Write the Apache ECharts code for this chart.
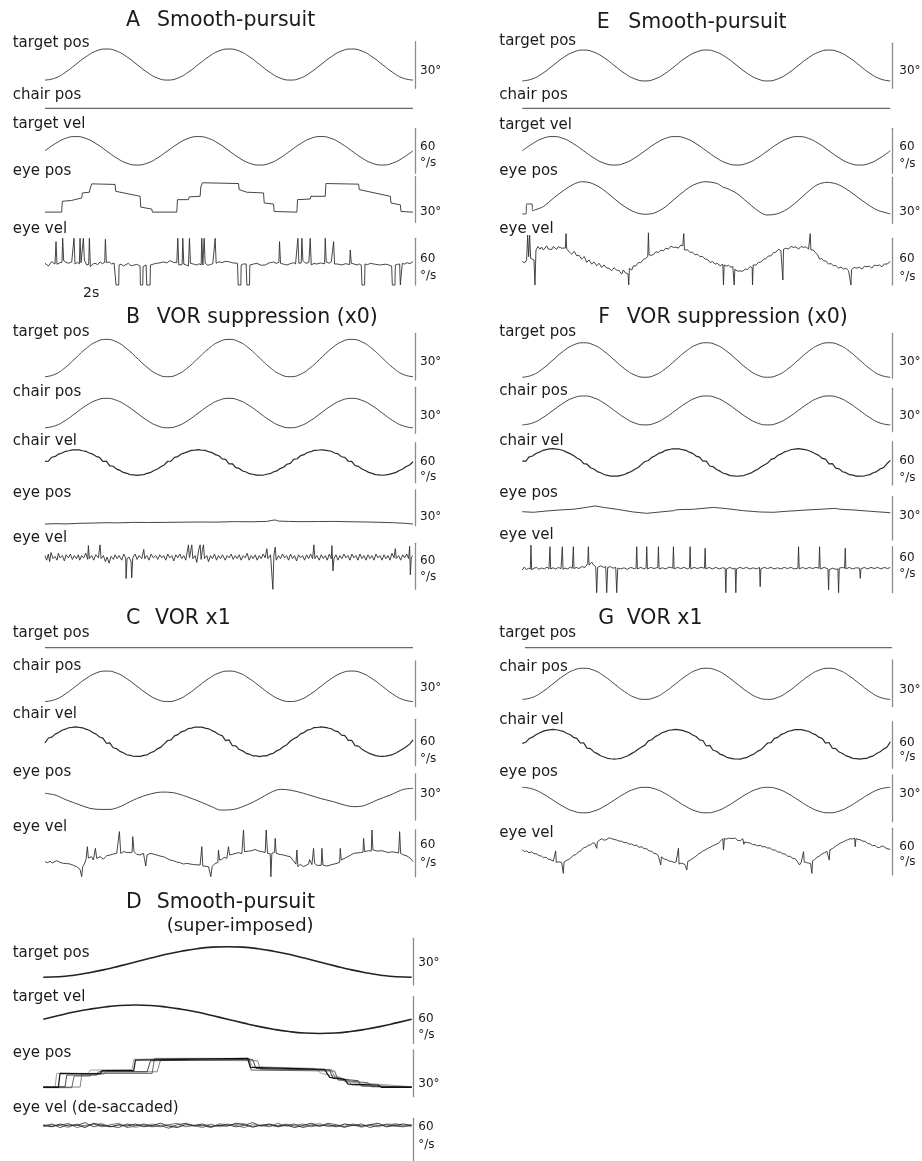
<!DOCTYPE html>
<html><head><meta charset="utf-8">
<script src="https://cdn.jsdelivr.net/npm/echarts@6/dist/echarts.min.js"></script>
<style>html,body{margin:0;padding:0;background:#fff}#c{width:922px;height:1161px}</style>
</head><body><div id="c"></div>
<script>
// ---------------- DATA ----------------
// x = sample index (3 stimulus cycles = 1103 samples; panel D one cycle = 1100)
// y = degrees (pos) or deg/s (vel)
const aTargetPos = [-10,-8.7,-5,0,5,8.7,10,8.7,5,0,-5,-8.7,-10,-8.7,-5,0,5,8.7,10,8.7,5,0,-5,-8.7,-10,-8.7,-5,0,5,8.7,10,8.7,5,0,-5,-8.7,-10];
const aChairPos = [0,0,0,0,0,0,0,0,0,0,0,0,0];
const aTargetVel = [0,9.5,16.5,19,16.5,9.5,0,-9.5,-16.5,-19,-16.5,-9.5,0,9.5,16.5,19,16.5,9.5,0,-9.5,-16.5,-19,-16.5,-9.5,0,9.5,16.5,19,16.5,9.5,0,-9.5,-16.5,-19,-16.5,-9.5,0];
const aEyePos = [0,6.7,50,6.7,52,13.8,80,14.4,83,15.3,110,16.0,112,19.3,133,19.8,135,22.0,140,25.3,210,24.9,212,20.4,285,17.1,287,10.0,320,8.7,322,6.7,395,6.7,397,14.9,430,14.9,432,16.7,465,17.1,467,23.3,472,26.0,580,25.5,582,21.5,605,19.8,655,19.3,657,12.7,685,12.0,687,7.1,755,6.7,757,14.9,795,15.3,797,17.1,840,17.1,842,25.5,940,25.1,942,21.5,1035,17.1,1037,12.7,1065,11.5,1067,7.1,1103,6.7];
const aEyeVel = [0,27.9,10,24.4,20,30.0,30,27.0,33,55.7,36,26.6,45,28.7,51,29.2,53,60,56,31.3,63,29.1,70,27.9,80,29.6,85,28.8,87,60,90,27.0,97,29.0,103,27.2,105,60,108,28.7,113,29.4,115,60,118,32.1,125,25.7,131,26.5,133,60,136,23.6,143,26.8,150,27.9,158,26.2,165,29.6,172,27.5,179,29.0,181,58.7,184,28.7,192,29.6,200,27.0,207,28.2,212,26.1,213,0,221,0,222,25.7,228,26.8,235,24.4,243,26.3,250,27.9,258,24.8,265,25.3,275,26.5,285,24.4,286,0,293,0,294,23.6,303,25.7,305,0,315,0,316,25.7,325,26.9,335,27.9,345,28.5,355,29.6,365,28.4,375,31.3,385,29.0,395,28.7,398,60,401,25.7,406,27.7,411,26.2,413,60,416,27.0,423,25.8,430,24.4,433,60,436,27.9,445,26.9,455,25.7,462,27.2,468,26.0,470,60,473,25.7,477,60,480,27.9,488,25.3,495,26.1,503,27.5,508,26.4,510,60,513,27.9,521,29.8,530,28.7,540,30.3,550,30.0,563,28.4,577,27.9,579,0,587,0,588,25.7,595,27.1,603,27.0,605,0,613,0,614,25.7,625,26.9,635,27.9,648,25.3,660,25.7,672,28.4,685,29.6,693,27.8,701,29.0,703,55.7,706,27.9,715,26.8,725,25.7,735,27.4,745,28.7,751,27.0,756,28.2,758,60,761,27.9,768,28.4,770,60,773,31.3,779,28.7,785,27.9,791,29.2,793,28.0,795,60,798,25.7,806,27.7,815,27.0,826,28.3,838,27.3,840,60,843,29.6,852,28.0,858,29.7,863,29.0,865,55.7,868,27.0,878,26.9,890,25.7,901,27.4,913,26.2,915,45,918,27.9,926,27.0,935,25.7,942,27.0,948,25.4,950,0,958,0,959,27.0,967,26.1,975,27.9,990,26.6,1005,25.7,1022,26.8,1039,24.4,1041,0,1049,0,1050,25.7,1057,26.5,1063,27.0,1065,0,1070,0,1071,27.9,1078,26.8,1085,28.7,1094,27.5,1103,30.0];

const bTargetPos = [-12,-10.4,-6,0,6,10.4,12,10.4,6,0,-6,-10.4,-12,-10.4,-6,0,6,10.4,12,10.4,6,0,-6,-10.4,-12,-10.4,-6,0,6,10.4,12,10.4,6,0,-6,-10.4,-12];
const bChairPos = [-9.6,-8.3,-4.8,0,4.8,8.3,9.6,8.3,4.8,0,-4.8,-8.3,-9.6,-8.3,-4.8,0,4.8,8.3,9.6,8.3,4.8,0,-4.8,-8.3,-9.6,-8.3,-4.8,0,4.8,8.3,9.6,8.3,4.8,0,-4.8,-8.3,-9.6];
const bChairVel = [1.8,1.9,7.9,9.1,12.6,14.2,16.8,17.6,18.9,18.8,18.9,17.6,16.8,14.3,12.5,9.2,7.8,1.5,2.2,-5.1,-5.6,-9.9,-11.9,-14.9,-16.2,-18.1,-18.5,-19.2,-18.5,-18.2,-16.2,-14.9,-11.9,-9.7,-6.3,-3.7,
 1.9,2.1,7.6,8.9,12.7,14.4,16.3,18.2,18.5,19.3,18.4,18.1,16.2,14.9,11.8,10.1,5.4,4.8,-2.1,-1.9,-7.6,-8.9,-12.7,-14.2,-16.8,-17.6,-18.9,-18.8,-19.1,-17.6,-16.8,-14.3,-12.6,-9.1,-7.2,-2.6,
 -1.2,4.6,5.6,10.2,11.7,15.0,16.2,18.2,18.4,19.1,18.6,17.7,16.9,14.2,12.9,8.6,7.8,1.9,1.6,-4.8,-5.8,-9.7,-12.1,-14.8,-16.3,-18.1,-18.5,-19.1,-18.6,-17.8,-16.4,-14.8,-11.9,-9.8,-6.1,-3.7,1.2];
const bEyePos = [0,1.4,30,1.7,65,1.5,100,2.0,140,2.2,180,2.5,220,2.4,265,2.8,310,2.7,365,2.8,420,3.0,465,3.1,510,3.0,565,3.4,620,3.3,665,3.6,680,4.5,690,4.8,700,3.9,730,3.6,765,3.4,820,3.5,865,3.6,920,3.3,965,3.1,1010,2.8,1045,2.5,1080,2.0,1103,1.4];
const bEyeVel = [0,44,5,38,10,46,14,36,18,48,24,40,30,43,36,38,40,47,45,41,52,44,58,37,63,45,70,41,76,46,82,39,88,44,94,40,100,45,104,38,110,44,116,41,122,47,128,39,130,57,133,40,140,44,146,38,152,45,160,41,165,58,168,40,175,44,181,36,186,42,192,34,198,43,205,39,210,45,216,40,222,44,230,38,236,46,242,41,243,14,246,40,252,42,258,36,260,15,263,41,270,46,276,39,282,44,290,40,296,52,299,40,305,44,312,38,318,46,325,41,332,44,338,39,344,45,350,41,356,44,362,38,368,46,374,41,380,44,386,37,392,45,398,41,404,46,410,40,416,44,422,38,430,58,433,41,440,58,443,40,450,44,455,35,460,50,465,58,468,39,472,52,475,58,478,40,485,44,490,36,496,44,502,40,508,46,514,38,520,44,526,40,532,45,540,38,546,44,552,41,558,46,564,39,570,44,576,40,582,45,588,38,594,44,600,41,606,47,612,38,618,44,624,40,630,45,636,38,642,44,648,40,654,46,660,41,665,53,668,40,676,45,683,0,686,44,690,55,693,38,700,44,706,40,712,46,718,41,724,44,730,38,736,46,742,40,748,44,754,37,760,45,766,41,772,44,778,38,784,45,790,40,796,46,802,40,806,58,809,40,815,44,822,38,828,45,834,40,840,44,846,38,852,46,858,40,860,57,863,24,866,40,872,45,878,38,884,44,890,40,896,46,902,41,908,44,914,38,920,46,926,41,932,44,938,38,944,46,950,40,956,44,962,38,968,45,974,40,980,44,986,38,992,46,998,41,1004,44,1010,38,1016,45,1022,40,1028,44,1034,38,1040,47,1046,41,1050,53,1053,40,1060,44,1066,38,1072,45,1078,41,1084,46,1090,40,1093,56,1095,19,1098,42,1103,44];

const cTargetPos = [0,0,0,0,0,0,0,0,0,0,0,0,0];
const cChairPos = [-10,-8.7,-5,0,5,8.7,10,8.7,5,0,-5,-8.7,-10,-8.7,-5,0,5,8.7,10,8.7,5,0,-5,-8.7,-10,-8.7,-5,0,5,8.7,10,8.7,5,0,-5,-8.7,-10];
const cChairVel = [-1.5,4.8,5.9,9.8,12.0,14.9,16.2,18.1,18.5,19.2,18.5,18.0,16.3,14.8,11.9,9.8,6.1,4.6,-2.0,-1.4,-7.8,-9.0,-12.5,-14.3,-16.8,-17.7,-18.8,-18.9,-19.0,-17.6,-16.9,-14.3,-12.5,-9.2,-7.0,-2.8,
 1.6,2.4,7.5,9.2,12.8,14.1,16.9,17.6,19.0,18.8,18.9,17.6,16.7,14.4,12.4,9.3,7.9,1.4,2.5,-5.2,-5.4,-10.1,-11.8,-15.0,-16.1,-18.2,-18.4,-19.3,-18.4,-18.3,-16.1,-15.0,-11.8,-9.8,-6.2,-3.8,
 0.9,3.9,6.0,10.1,11.8,15.1,16.1,18.3,18.4,19.2,18.5,17.8,16.8,14.1,13.0,8.5,7.9,1.8,1.9,-5.0,-5.7,-9.6,-12.3,-14.7,-16.4,-18.0,-18.6,-19.0,-18.7,-17.7,-16.6,-14.5,-12.1,-9.4,-6.4,-3.1,2.4];
const cEyePos = [0,17.4,30,16.3,65,13.0,105,9.8,135,7.6,165,6.9,195,6.9,225,8.7,265,13.0,305,16.3,350,18.2,385,17.8,425,15.2,465,11.9,505,8.2,525,6.5,565,6.9,605,9.8,645,14.1,675,17.8,705,20.0,735,19.5,775,17.4,825,14.1,865,11.9,905,9.3,925,8.7,955,9.3,995,13.0,1035,16.3,1075,20.0,1103,20.6];
const cEyeVel = [0,19.3,8,18.0,15,19.8,22,17.6,35,20.6,45,18.4,55,17.1,65,16.9,75,16.3,85,14.6,95,12.9,105,9.4,110,0,113,12.9,118,16.3,123,22.3,127,38.6,130,24.0,140,25.7,145,21.4,151,36.4,155,23.6,165,25.7,175,22.5,185,27.0,195,27.9,205,29.1,215,30.0,220,32.1,223,57.9,227,30.0,235,32.1,245,31.2,255,30.9,261,31.5,263,51.4,267,32.1,275,28.7,285,27.9,295,30.0,300,28.6,302,13.7,306,27.9,315,30.0,325,29.1,335,27.9,345,26.5,355,25.7,365,23.6,375,21.4,385,20.6,395,18.8,405,18.0,415,16.3,425,17.1,435,16.3,445,15.6,465,15.0,468,14.2,470,38.6,473,13.7,483,13.3,490,12.9,495,13.5,497,0,501,12.9,505,15.0,510,17.1,518,18.0,520,34.3,523,21.4,530,22.3,537,24.9,545,23.6,548,24.4,550,38.6,553,27.9,565,29.1,570,30.0,580,30.9,590,29.6,593,30.2,595,60,598,32.1,610,32.9,620,33.4,630,35.1,640,33.0,650,32.1,660,31.2,663,60,667,30.0,675,29.5,677,0,680,30.0,688,31.3,690,49.3,693,30.0,705,28.5,715,27.9,725,26.6,735,25.7,740,24.9,752,16.1,755,34.3,758,12.9,765,15.8,770,17.1,775,12.9,790,16.3,793,21.9,800,15.6,803,16.2,805,36.4,808,17.1,815,14.6,820,15.0,828,14.6,830,36.4,833,15.0,845,13.7,850,12.9,860,15.6,865,16.3,875,17.1,883,18.4,885,36.4,888,21.4,900,24.1,905,25.7,915,27.4,925,30.0,935,30.5,945,30.9,953,31.4,955,49.3,958,32.1,970,33.4,978,33.0,980,60,983,34.3,995,33.0,1000,32.1,1010,33.4,1020,32.1,1030,30.9,1040,32.1,1045,31.2,1060,30.5,1063,57.9,1066,30.0,1075,27.9,1085,26.6,1095,23.6,1103,19.3];

const dTargetPos = [-9.8,-9.5,-8.5,-6.9,-4.9,-2.5,0,2.5,4.9,6.9,8.5,9.5,9.8,9.5,8.5,6.9,4.9,2.5,0,-2.5,-4.9,-6.9,-8.5,-9.5,-9.8];
const dTargetVel = [0,4.7,9.2,12.9,15.8,17.7,18.3,17.7,15.8,12.9,9.2,4.7,0,-4.7,-9.2,-12.9,-15.8,-17.7,-18.3,-17.7,-15.8,-12.9,-9.2,-4.7,0];
const dEyePos1 = [0,6.0,45,6.0,50,15.0,170,14.6,175,16.7,270,16.7,275,23.5,610,24.6,618,18.8,840,17.5,855,12.4,900,11.1,910,8.1,1000,7.5,1010,6.0,1100,6.0];
const dEyePos2 = [0,6.4,65,6.4,70,13.9,160,13.9,165,16.0,310,16.0,320,23.1,625,24.0,635,18.2,855,17.1,865,11.8,940,10.3,950,6.8,1100,6.4];
const dEyePos3 = [0,5.8,85,5.8,92,13.3,140,13.3,145,15.0,325,15.0,332,24.6,615,24.6,620,17.1,870,16.5,880,10.7,970,9.0,980,6.4,1100,6.0];
const dEyePos4 = [0,6.2,110,6.2,115,14.6,180,14.6,188,16.0,340,16.0,350,23.5,640,23.1,648,17.5,860,17.5,870,12.8,910,10.7,920,7.5,1100,6.2];
const dEyePos5 = [0,6.0,35,6.0,40,15.0,135,15.0,140,17.1,265,17.5,270,24.0,430,24.6,615,23.5,625,19.3,810,18.2,830,15.0,890,12.4,900,9.6,1100,6.4];
const dEyeVel1 = [50,48,52,49,51,47,53,50,48,51,49,52,48,50,53,49,47,51,50,52,48,50,49,53,51,48,50,52,49,51,47,50,53,49,51,48,52,50,49,51,53,48,50,52,50];
const dEyeVel2 = [49,52,47,51,50,54,48,51,49,47,52,50,51,48,50,46,51,53,49,50,47,52,51,48,50,54,49,51,48,50,52,47,50,49,53,51,48,50,52,47,50,51,49,48,51];
const dEyeVel3 = [51,49,50,53,47,50,52,48,51,53,47,49,52,50,48,51,53,48,50,47,51,49,52,50,47,51,50,48,53,49,50,52,48,51,49,50,47,52,49,50,48,52,51,49,50];
const dEyeVel4 = [48,51,50,47,52,49,51,53,48,50,51,47,50,52,49,51,48,53,50,49,52,48,50,51,53,47,51,49,50,52,49,48,51,53,48,50,49,52,47,51,50,49,53,50,48];

const eTargetPos = [-10.3,-8.9,-5.2,0,5.2,8.9,10.3,8.9,5.2,0,-5.2,-8.9,-10.3,-8.9,-5.2,0,5.2,8.9,10.3,8.9,5.2,0,-5.2,-8.9,-10.3,-8.9,-5.2,0,5.2,8.9,10.3,8.9,5.2,0,-5.2,-8.9,-10.3];
const eChairPos = [0,0,0,0,0,0,0,0,0,0,0,0,0];
const eTargetVel = [0,9.5,16.5,19,16.5,9.5,0,-9.5,-16.5,-19,-16.5,-9.5,0,9.5,16.5,19,16.5,9.5,0,-9.5,-16.5,-19,-16.5,-9.5,0,9.5,16.5,19,16.5,9.5,0,-9.5,-16.5,-19,-16.5,-9.5,0];
const eEyePos = [0,6.1,11,6.1,13,12.6,29,12.6,31,8.2,38,8.7,63,10.9,93,16.3,123,21.3,153,25.4,178,27.1,203,26.5,233,23.4,263,18.4,293,13.0,323,8.7,348,6.5,368,5.9,393,6.5,423,9.8,453,15.2,483,20.6,513,25.0,548,27.1,583,26.0,603,23.4,613,22.8,643,19.5,673,14.1,703,8.7,733,5.4,763,6.1,793,9.1,823,14.1,853,20.0,883,25.0,913,26.7,943,25.6,973,22.1,1003,17.4,1033,12.6,1063,8.7,1103,6.1];
const eEyeVel = [0,30.0,8,28.7,13,32.1,16,64,19,36.4,22,64,25,34.3,35,32.1,38,0,41,45,47,49.5,53,46.0,58,48.8,63,44.9,68,47.5,73,50.3,78,46.2,83,47.9,88,45.6,93,49.4,98,47.0,103,45.7,108,49.2,113,51.1,118,47.3,123,48.6,129,47.5,131,66,133,46.5,135,44.0,141,42.3,148,39.7,156,43.1,163,37.6,170,38.2,178,33.3,186,36.6,193,29.0,200,32.3,208,26.9,215,29.6,223,24.7,230,27.9,238,22.6,245,25.8,253,21.7,260,21.6,268,18.3,275,22.2,283,19.1,290,18.5,298,14.0,303,19.3,308,16.1,313,16.2,317,14.1,319,0,321,21.4,328,19.2,333,24.6,340,24.4,348,28.9,355,28.6,363,33.1,369,33.8,376,36.4,378,67,380,38.6,387,38.3,393,38.9,400,42.5,408,41.9,415,44.6,423,44.0,430,47.2,438,46.1,445,49.8,453,48.3,460,48.6,468,47.4,475,51.3,481,50.4,483,51.4,484,66,486,45,495,45.1,503,41.9,510,42.2,518,38.9,525,39.4,533,36.3,540,36.8,548,33.3,555,32.9,563,29.0,570,30.1,578,26.9,585,27.6,593,24.7,601,26.7,603,0,605,25.7,612,24.1,618,25.4,625,22.8,631,23.7,634,22.0,635,0,637,20.1,645,17.9,653,18.1,660,17.6,668,20.3,675,20.0,683,23.7,689,22.0,690,0,692,25.7,700,25.5,708,28.9,715,29.4,723,33.1,730,33.7,738,37.4,745,37.2,753,41.7,760,42.1,768,46.0,775,44.0,779,45,781,6.4,783,45.9,790,47.2,798,46.1,805,49.6,813,48.3,820,49.0,828,46.1,835,49.5,843,48.3,850,49.1,858,46.1,862,47.0,863,66,865,45,872,45.0,878,41.9,885,38.6,891,33.3,897,34.0,903,31.1,910,30.8,918,26.9,925,27.6,933,24.7,940,25.0,948,21.7,955,23.0,963,20.4,970,21.5,978,18.3,983,19.6,985,0,987,20.1,995,22.6,1003,21.7,1010,22.9,1018,20.4,1025,24.1,1033,23.4,1040,24.2,1048,21.7,1055,25.6,1063,24.7,1070,25.8,1078,23.4,1085,27.0,1093,26.9,1103,30.0];

const fTargetPos = [-11.5,-10,-5.8,0,5.8,10,11.5,10,5.8,0,-5.8,-10,-11.5,-10,-5.8,0,5.8,10,11.5,10,5.8,0,-5.8,-10,-11.5,-10,-5.8,0,5.8,10,11.5,10,5.8,0,-5.8,-10,-11.5];
const fChairPos = [-10,-8.7,-5,0,5,8.7,10,8.7,5,0,-5,-8.7,-10,-8.7,-5,0,5,8.7,10,8.7,5,0,-5,-8.7,-10,-8.7,-5,0,5,8.7,10,8.7,5,0,-5,-8.7,-10];
const fChairVel = [2.3,1.5,7.8,9.0,12.5,14.3,16.7,17.8,18.8,19.1,18.6,18.0,16.6,14.4,12.3,9.6,6.2,3.9,-1.6,-2.4,-7.3,-9.1,-12.6,-14.3,-16.7,-17.8,-18.8,-18.9,-18.9,-17.8,-16.7,-14.4,-12.4,-9.3,-7.0,-2.6,
 1.4,2.7,7.1,9.4,12.6,14.0,16.9,17.7,19.0,18.9,18.8,17.7,16.9,14.3,12.6,8.9,7.4,2.0,1.8,-4.9,-5.8,-9.7,-12.0,-14.9,-16.2,-18.2,-18.5,-19.1,-18.5,-18.1,-16.3,-14.8,-12.0,-9.6,-6.4,-3.5,
 -0.8,4.4,5.7,10.0,11.9,14.8,16.3,18.0,18.6,19.2,18.6,17.9,16.6,14.5,12.2,9.9,5.8,4.7,-1.9,-1.6,-7.7,-8.8,-12.8,-14.1,-16.9,-17.6,-18.9,-18.8,-19.1,-17.7,-16.8,-14.2,-12.6,-9.0,-7.1,-1.8,2.9];
const fEyePos = [0,19.6,33,19.2,73,20.1,113,20.8,153,21.3,193,22.6,218,23.6,243,22.6,283,21.3,333,19.4,373,18.5,413,19.4,453,20.3,463,21.0,513,21.3,573,22.6,613,21.7,663,20.3,713,19.4,753,19.2,793,19.9,853,20.8,893,21.3,938,21.9,943,23.1,953,21.3,993,20.8,1043,19.9,1103,18.9];
const fEyeVel = [0,29.6,6,33.5,12,30.0,18,31.8,24,31,26,62,28,30,35,31.8,42,33.0,50,30.5,58,32.2,66,31.0,74,33.5,80,31.0,83,60,85,31,92,32.6,100,30.8,108,33.0,116,31.4,120,60,122,30.5,128,32.2,136,31.0,144,33.5,150,31.8,153,60,155,31.4,162,33,170,31.5,178,34,188,33,196,38,198,60,200,36,208,40,214,36,220,34,223,0,226,33,235,35,244,33,250,34,253,0,256,33,264,34,272,32,280,33,283,0,286,32,295,31,305,32.5,315,30.5,325,33,335,31.5,341,32,343,60,345,31,355,33,365,31,371,32.5,373,60,375,31,385,33,395,31.5,406,33,408,60,410,31,420,32.5,430,31,440,33.5,451,32,453,60,455,31,465,33,475,31.5,485,33,495,31,501,32.5,503,60,505,31,515,33,525,31.5,535,33,546,32,548,58,550,31,560,33,570,31,580,33,590,31,600,32.5,608,32,610,0,612,31,622,33,632,31,638,32,640,0,642,31,652,33,662,31.5,672,33,682,31,692,32.5,702,31,711,33,713,7.8,715,31,725,33,735,31.5,745,33,755,31,765,32.5,775,31,785,33,795,31.5,805,33,815,31,826,32,828,60,830,31,840,33,850,31,860,33,870,31.5,880,33,889,32,891,60,893,31,905,33,916,31,918,3.5,920,30,930,32,940,30.5,946,31,948,0,950,32,960,33,966,32,968,58,970,31,980,33,990,31,1000,32.5,1011,32,1013,18.7,1015,31,1025,33,1035,31,1045,33,1055,31.5,1065,33,1075,31,1085,33,1095,31.5,1103,33];

const gTargetPos = [0,0,0,0,0,0,0,0,0,0,0,0,0];
const gChairPos = [-10,-8.7,-5,0,5,8.7,10,8.7,5,0,-5,-8.7,-10,-8.7,-5,0,5,8.7,10,8.7,5,0,-5,-8.7,-10,-8.7,-5,0,5,8.7,10,8.7,5,0,-5,-8.7,-10];
const gChairVel = [1.2,2.6,7.4,9.2,12.4,14.5,16.6,18.0,18.6,19.1,18.7,17.8,16.7,14.2,12.6,9.0,7.6,1.7,1.9,-4.9,-5.6,-9.8,-12.0,-14.8,-16.4,-18.0,-18.6,-19.1,-18.6,-18.0,-16.4,-14.7,-12.0,-9.6,-6.3,-3.4,
 -1.1,4.5,5.8,9.9,12.0,14.8,16.3,18.1,18.5,19.2,18.6,17.9,16.4,14.8,11.9,10.0,5.7,4.9,-2.2,-1.3,-7.7,-9.0,-12.6,-14.2,-16.8,-17.7,-18.8,-18.9,-19.0,-17.7,-16.8,-14.3,-12.5,-9.1,-7.1,-2.7,
 1.7,2.2,7.7,8.9,12.7,14.2,16.8,17.7,18.9,18.8,18.9,17.6,16.8,14.3,12.5,9.2,7.7,1.6,2.3,-5.0,-5.5,-10.0,-11.9,-14.9,-16.2,-18.1,-18.5,-19.2,-18.5,-18.2,-16.2,-14.9,-11.9,-9.7,-6.2,-3.8,3.1];
const gEyePos = [8.2,7.1,4.1,0,-4.1,-7.1,-8.2,-7.1,-4.1,0,4.1,7.1,8.2,7.1,4.1,0,-4.1,-7.1,-8.2,-7.1,-4.1,0,4.1,7.1,8.2,7.1,4.1,0,-4.1,-7.1,-8.2,-7.1,-4.1,0,4.1,7.1,8.2];
const gEyeVel = [0,32.1,7,30.2,13,31.0,20,28.6,28,29.6,35,27.4,43,27.2,50,24.8,58,24.3,64,22.1,71,23.0,77,20.4,83,19.9,88,17.6,93,17.8,98,16.9,100,30.9,102,16.0,108,16.9,113,14.6,118,16.2,121,15.0,123,2.1,125,16.5,131,18.4,138,19.8,145,21.6,153,25.4,160,26.0,168,29.6,175,31.0,183,34.8,190,35.6,198,38.2,204,38.5,211,41.2,217,40.8,221,42.4,223,34.3,225,42.6,232,44.9,238,46.6,245,44.7,253,45.5,260,47.8,268,46.6,275,45.8,283,44.9,290,43.6,298,43.4,305,41.5,313,41.6,320,39.6,328,39.9,335,37.9,343,38.2,350,35.5,358,36.4,365,33.8,373,33.8,380,31.0,388,30.4,395,27.8,403,27.0,408,24.3,413,22.8,415,12.9,417,23.3,425,20.4,433,19.8,440,17.8,448,17.5,455,16.0,461,16.7,466,15.8,468,34.3,470,14.0,476,15.4,481,15.3,487,13.6,491,14.8,493,6.4,496,17.4,505,19.5,513,21.9,520,24.0,528,27.0,535,28.8,543,31.3,550,32.6,558,34.7,565,36.0,573,38.1,580,39.0,588,41.1,595,44.0,601,46.7,603,32.1,606,46.9,612,46.0,618,47.3,623,46.0,630,46.8,638,47.5,645,44.6,653,44.1,658,45.9,661,46.6,664,39.4,667,42.5,675,41.6,683,41.0,690,39.2,698,38.9,705,37.4,713,38.1,720,36.2,728,36.4,735,34.6,743,34.7,750,32.2,758,32.1,765,29.6,773,29.5,780,27.2,788,26.9,795,24.2,803,23.9,810,21.5,818,20.9,825,17.1,831,12.9,836,16.5,841,17.4,843,30.0,845,16.6,852,15.9,858,15.3,864,14.9,868,2.1,870,18.2,876,19.8,883,22.6,890,24.3,898,26.9,905,28.4,913,30.3,918,30.0,920,19.3,922,32.4,930,34.1,938,36.7,945,38.6,953,41.0,960,42.2,968,44.0,975,45.3,983,46.6,990,46.2,996,47.4,998,36.4,1000,46.6,1006,45.8,1013,45.3,1020,43.6,1028,43.2,1035,40.6,1043,39.7,1050,37.6,1058,38.0,1064,35.4,1071,35.4,1077,37.0,1083,36.7,1088,34.2,1093,33.7,1098,34.8,1103,33.0];

// text content
const panelLetters = ['A','B','C','D','E','F','G'];
const panelNames = ['Smooth-pursuit','VOR suppression (x0)','VOR x1','Smooth-pursuit','Smooth-pursuit','VOR suppression (x0)','VOR x1'];
const dSubtitle = '(super-imposed)';
const timeScaleLabel = '2s';

// ---------------- LAYOUT ----------------
const COL = {L:{left:45,width:368,max:1103}, R:{left:522.3,width:368,max:1103}, D:{left:43.3,width:368.4,max:1100}};
const TRACE = '#303030', FLAT = '#6a6a6a', BAR = '#8c8c8c', INK = '#1c1a1a';
const CV = {w:1.2, color:'#2a2a2a'};
function uni(vals, span){ return vals.map((v,i)=>[i*span/(vals.length-1), v]); }
function pr(flat){ const o=[]; for(let i=0;i<flat.length;i+=2) o.push([flat[i],flat[i+1]]); return o; }
function L(d,o){ return Object.assign({d:d},o||{}); }

const tracks = [
 // A
 {c:'L',top:41.7,bot:88.3,lo:-15.3,span:30,bar:true,lines:[L(uni(aTargetPos,1103),{smooth:true})],lab:'target pos',ly:43,sc:[['30°',70.7]]},
 {c:'L',top:93.3,bot:123.3,lo:-1,span:2,bar:false,lines:[L(uni(aChairPos,1103),{color:FLAT,w:1.2})],lab:'chair pos',ly:95},
 {c:'L',top:128.3,bot:173.3,lo:-30,span:60,bar:true,lines:[L(uni(aTargetVel,1103),{smooth:true})],lab:'target vel',ly:124.5,sc:[['60',146.7],['°/s',163.3]]},
 {c:'L',top:176.7,bot:222.3,lo:0,span:30,bar:true,lines:[L(pr(aEyePos))],lab:'eye pos',ly:171,sc:[['30°',211.7]]},
 {c:'L',top:238.3,bot:285,lo:0,span:60,bar:true,lines:[L(pr(aEyeVel))],lab:'eye vel',ly:229.5,sc:[['60',259.3],['°/s',276]]},
 // B
 {c:'L',top:333.3,bot:380,lo:-14.1,span:30,bar:true,lines:[L(uni(bTargetPos,1103),{smooth:true})],lab:'target pos',ly:332.5,sc:[['30°',361.7]]},
 {c:'L',top:387.3,bot:433.3,lo:-13.2,span:30,bar:true,lines:[L(uni(bChairPos,1103),{smooth:true})],lab:'chair pos',ly:392,sc:[['30°',416]]},
 {c:'L',top:442.7,bot:482.7,lo:-30.3,span:60,bar:true,lines:[L(uni(bChairVel,1103),CV)],lab:'chair vel',ly:441.5,sc:[['60',461.7],['°/s',477.3]]},
 {c:'L',top:490,bot:525.7,lo:0,span:30,bar:true,lines:[L(pr(bEyePos))],lab:'eye pos',ly:493,sc:[['30°',516.7]]},
 {c:'L',top:543.3,bot:589.3,lo:0,span:60,bar:true,lines:[L(pr(bEyeVel))],lab:'eye vel',ly:538.5,sc:[['60',560.7],['°/s',577.3]]},
 // C
 {c:'L',top:632.7,bot:662.7,lo:-1,span:2,bar:false,lines:[L(uni(cTargetPos,1103),{color:FLAT,w:1.2})],lab:'target pos',ly:633.5},
 {c:'L',top:661,bot:706.7,lo:-13.4,span:30,bar:true,lines:[L(uni(cChairPos,1103),{smooth:true})],lab:'chair pos',ly:666,sc:[['30°',687.7]]},
 {c:'L',top:719.3,bot:765.7,lo:-31,span:60,bar:true,lines:[L(uni(cChairVel,1103),CV)],lab:'chair vel',ly:714,sc:[['60',741.7],['°/s',759.3]]},
 {c:'L',top:774,bot:820,lo:0,span:30,bar:true,lines:[L(pr(cEyePos),{smooth:0.3})],lab:'eye pos',ly:772.5,sc:[['30°',794]]},
 {c:'L',top:830,bot:876.7,lo:0,span:60,bar:true,lines:[L(pr(cEyeVel))],lab:'eye vel',ly:827.5,sc:[['60',845],['°/s',863.3]]},
 // D
 {c:'D',top:938.3,bot:985,lo:-14.8,span:30,bar:true,lines:[L(uni(dTargetPos,1100),{smooth:true,w:1.6,color:'#222'})],lab:'target pos',ly:953.5,sc:[['30°',963.3]]},
 {c:'D',top:996.7,bot:1043.3,lo:-31,span:60,bar:true,lines:[L(uni(dTargetVel,1100),{smooth:true,w:1.6,color:'#222'})],lab:'target vel',ly:997.5,sc:[['60',1019.3],['°/s',1035]]},
 {c:'D',top:1050,bot:1096.7,lo:0,span:30,bar:true,lines:[L(pr(dEyePos5),{color:'#999'}),L(pr(dEyePos4),{color:'#777'}),L(pr(dEyePos3),{color:'#555'}),L(pr(dEyePos2),{color:'#333'}),L(pr(dEyePos1),{color:'#111',w:1.2})],lab:'eye pos',ly:1053,sc:[['30°',1084.3]]},
 {c:'D',top:1118.3,bot:1163.3,lo:0,span:60,bar:true,lines:[L(uni(dEyeVel4,1100),{color:'#999',w:0.9}),L(uni(dEyeVel3,1100),{color:'#666',w:0.9}),L(uni(dEyeVel2,1100),{color:'#444',w:0.9}),L(uni(dEyeVel1,1100),{color:'#222',w:0.9})],lab:'eye vel (de-saccaded)',ly:1108,sc:[['60',1126.7],['°/s',1145]]},
 // E
 {c:'R',top:43.3,bot:88.3,lo:-15.2,span:30,bar:true,lines:[L(uni(eTargetPos,1103),{smooth:true})],lab:'target pos',ly:41,sc:[['30°',70.7]]},
 {c:'R',top:93.3,bot:123.3,lo:-1,span:2,bar:false,lines:[L(uni(eChairPos,1103),{color:FLAT,w:1.2})],lab:'chair pos',ly:95},
 {c:'R',top:128.3,bot:173.3,lo:-30,span:60,bar:true,lines:[L(uni(eTargetVel,1103),{smooth:true})],lab:'target vel',ly:125.5,sc:[['60',146.7],['°/s',164]]},
 {c:'R',top:177.3,bot:223.3,lo:0,span:30,bar:true,lines:[L(pr(eEyePos),{smooth:0.3})],lab:'eye pos',ly:171,sc:[['30°',211.7]]},
 {c:'R',top:238.3,bot:285,lo:0,span:60,bar:true,lines:[L(pr(eEyeVel))],lab:'eye vel',ly:229.5,sc:[['60',259.3],['°/s',276.7]]},
 // F
 {c:'R',top:333.3,bot:378.3,lo:-12.2,span:30,bar:true,lines:[L(uni(fTargetPos,1103),{smooth:true})],lab:'target pos',ly:332.5,sc:[['30°',361.7]]},
 {c:'R',top:388.3,bot:431.7,lo:-14.7,span:30,bar:true,lines:[L(uni(fChairPos,1103),{smooth:true})],lab:'chair pos',ly:391,sc:[['30°',416]]},
 {c:'R',top:441.7,bot:485,lo:-31.2,span:60,bar:true,lines:[L(uni(fChairVel,1103),CV)],lab:'chair vel',ly:441.5,sc:[['60',460.7],['°/s',477.7]]},
 {c:'R',top:496.7,bot:540,lo:0,span:30,bar:true,lines:[L(pr(fEyePos))],lab:'eye pos',ly:493,sc:[['30°',516]]},
 {c:'R',top:546.7,bot:592.7,lo:0,span:60,bar:true,lines:[L(pr(fEyeVel))],lab:'eye vel',ly:535.5,sc:[['60',557.7],['°/s',574.3]]},
 // G
 {c:'R',left:525,width:367,top:632.7,bot:662.7,lo:-1,span:2,bar:false,lines:[L(uni(gTargetPos,1103),{color:FLAT,w:1.2})],lab:'target pos',ly:633.5},
 {c:'R',top:660,bot:706.7,lo:-14.7,span:30,bar:true,lines:[L(uni(gChairPos,1103),{smooth:true})],lab:'chair pos',ly:667,sc:[['30°',690]]},
 {c:'R',top:721.7,bot:768.3,lo:-30.9,span:60,bar:true,lines:[L(uni(gChairVel,1103),CV)],lab:'chair vel',ly:720.5,sc:[['60',743.3],['°/s',757.3]]},
 {c:'R',top:775,bot:821.7,lo:-13.9,span:30,bar:true,lines:[L(uni(gEyePos,1103),{smooth:true})],lab:'eye pos',ly:772.5,sc:[['30°',794]]},
 {c:'R',top:828.3,bot:875,lo:0,span:60,bar:true,lines:[L(pr(gEyeVel))],lab:'eye vel',ly:833,sc:[['60',846.7],['°/s',861.7]]}
];

const titles = [ // letter x, name x, y
 [126,157,21],[126,156.7,318],[126,155,619],[126,156.7,902.5],[596.7,628.3,23],[598.3,626.7,318],[598.3,626.7,619]
];

const FONT = '"DejaVu Sans", sans-serif';
const grid=[], xAxis=[], yAxis=[], series=[], graphic=[];
function txt(x,y,s,size){ graphic.push({type:'text',x:x,y:y,silent:true,style:{text:s,font:size+'px '+FONT,fill:INK,align:'left',verticalAlign:'middle'}}); }

tracks.forEach((t,i)=>{
  const col = COL[t.c];
  const left = t.left!=null ? t.left : col.left;
  const width = t.width!=null ? t.width : col.width;
  grid.push({left:left, top:t.top, width:width, height:t.bot-t.top, containLabel:false});
  xAxis.push({type:'value', gridIndex:i, min:0, max:col.max, show:false});
  yAxis.push({type:'value', gridIndex:i, min:t.lo, max:t.lo+t.span, position:'right', offset:2,
    axisLine:{show:t.bar, onZero:false, lineStyle:{color:BAR, width:1.3}},
    axisTick:{show:false}, axisLabel:{show:false}, splitLine:{show:false}});
  t.lines.forEach(ln=>{
    series.push({type:'line', xAxisIndex:i, yAxisIndex:i, data:ln.d, symbol:'none', showSymbol:false,
      smooth:ln.smooth||false, clip:false, silent:true, animation:false,
      lineStyle:{color:ln.color||TRACE, width:ln.w||0.9}});
  });
  const lx = t.c==='R' ? 499.3 : 12.7;
  txt(lx, t.ly, t.lab, 15);
  const sx = t.c==='R' ? 899.3 : (t.c==='D' ? 418.3 : 420);
  (t.sc||[]).forEach(s=>txt(sx, s[1], s[0], 12));
});

titles.forEach((p,i)=>{ txt(p[0],p[2],panelLetters[i],20.5); txt(p[1],p[2],panelNames[i],20.5); });
txt(166.7, 926.5, dSubtitle, 18);
txt(83, 293.3, timeScaleLabel, 14);

const chart = echarts.init(document.getElementById('c'), null, {renderer:'canvas'});
chart.setOption({animation:false, backgroundColor:'#fff', grid, xAxis, yAxis, series, graphic});
</script></body></html>
